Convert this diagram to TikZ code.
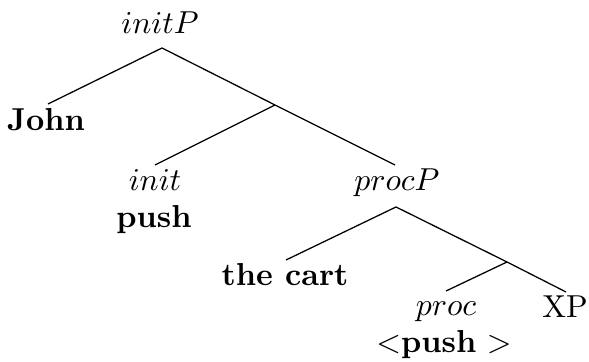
\documentclass[tikz,border=0pt]{standalone}
\begin{document}
\begin{tikzpicture}[x=0.315pt,y=-0.315pt,
  lbl/.style={anchor=base,inner sep=0pt,outer sep=0pt},
  branch/.style={line width=0.4pt}]
\useasboundingbox (0,0) rectangle (589,362);
% labels
\node[lbl] (initP) at (160,34) {$initP$};
\node[lbl] (John) at (46,131) {\textbf{John}};
\node[lbl] (init) at (155,191) {$init$};
\node[lbl] (push) at (154,228) {\textbf{push}};
\node[lbl] (procP) at (397,191) {$procP$};
\node[lbl] (cart) at (285,286) {\textbf{the cart}};
\node[lbl] (proc) at (446,316) {$proc$};
\node[lbl] (XP) at (565,318) {XP};
\node[lbl] (tpush) at (444,353) {$<$\textbf{push} $>$};
% branching points
\coordinate (a1) at (162,48);
\coordinate (johnT) at (48,104);
\coordinate (b1) at (275,105);
\coordinate (initT) at (155,165);
\coordinate (procPT) at (395,165);
\coordinate (a2) at (396,207);
\coordinate (cartT) at (286,260);
\coordinate (b2) at (507,262);
\coordinate (procT) at (446,291);
\coordinate (XPT) at (566,292);
% connectors
\draw[branch] (johnT) -- (a1) -- (b1) -- (procPT);
\draw[branch] (b1) -- (initT);
\draw[branch] (cartT) -- (a2) -- (b2) -- (XPT);
\draw[branch] (b2) -- (procT);
\end{tikzpicture}
\end{document}
